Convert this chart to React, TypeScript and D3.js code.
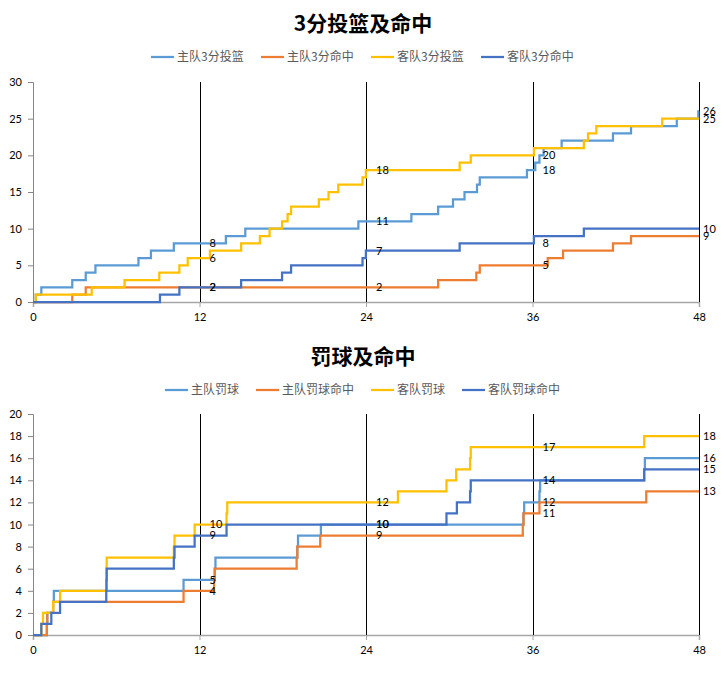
import React, { useEffect, useRef } from 'react';
import * as d3 from 'd3';

// event times (minute of game) at which each running total goes up by one
const homeAtt3 = [0.2, 0.6, 2.83, 3.8, 4.5, 7.6, 8.5, 10.15, 13.9, 15.3, 23.45, 27.27, 29.2, 30.27, 31.1, 32.0, 32.2, 35.6, 36.2, 36.5, 36.8, 38.1, 41.8, 43.1, 46.4, 47.95];
const homeMade3 = [2.83, 3.8, 29.2, 31.95, 32.2, 37.1, 38.2, 41.8, 43.1];
const awayAtt3 = [0.2, 4.23, 6.6, 9.1, 10.55, 11.15, 12.75, 15.0, 16.35, 17.05, 17.95, 18.35, 18.6, 20.6, 21.3, 22.0, 23.75, 23.99, 30.75, 31.55, 36.1, 39.7, 40.0, 40.6, 45.35];
const awayMade3 = [9.15, 10.55, 15.0, 17.95, 18.6, 23.75, 23.99, 30.75, 36.1, 39.7];

const homeFT = [1.0, 1.03, 1.45, 1.5, 10.85, 13.1, 13.15, 19.05, 19.1, 20.75, 35.35, 35.4, 36.5, 36.55, 44.05, 44.1];
const homeFTM = [1.0, 1.03, 1.45, 10.85, 13.05, 13.1, 19.0, 19.05, 20.7, 35.3, 35.35, 36.5, 44.2];
const awayFT = [0.6, 0.72, 1.45, 1.95, 5.28, 5.3, 5.31, 10.15, 10.2, 11.65, 13.95, 14.0, 26.3, 29.8, 30.5, 31.5, 31.55, 44.05];
const awayFTM = [0.6, 1.32, 1.95, 5.28, 5.3, 5.31, 10.15, 10.2, 11.65, 13.95, 29.8, 30.55, 31.5, 31.55, 44.05];

const quarterMarks = [12, 24, 36, 48];
const xTicks = [0, 12, 24, 36, 48];
const yTicksTop = [0, 5, 10, 15, 20, 25, 30];
const yTicksBottom = [0, 2, 4, 6, 8, 10, 12, 14, 16, 18, 20];

const namesTop = ['主队3分投篮', '主队3分命中', '客队3分投篮', '客队3分命中'];
const namesBottom = ['主队罚球', '主队罚球命中', '客队罚球', '客队罚球命中'];
const colors = ['#5B9BD5', '#ED7D31', '#FFC000', '#4472C4'];

const cjk = "'Noto Sans CJK SC', sans-serif";
const num = "Lato, 'Noto Sans CJK SC', sans-serif";

interface PanelSpec {
  title: string;
  titleY: number;
  legendY: number;
  legendX: number[];
  names: string[];
  series: number[][];
  yMax: number;
  yTicks: number[];
  top: number;
  bottom: number;
}

const panels: PanelSpec[] = [
  {
    title: '3分投篮及命中', titleY: 31, legendY: 57, legendX: [151, 261, 371, 481],
    names: namesTop, series: [homeAtt3, homeMade3, awayAtt3, awayMade3],
    yMax: 30, yTicks: yTicksTop, top: 82, bottom: 302,
  },
  {
    title: '罚球及命中', titleY: 364, legendY: 390, legendX: [165, 256, 371, 462],
    names: namesBottom, series: [homeFT, homeFTM, awayFT, awayFTM],
    yMax: 20, yTicks: yTicksBottom, top: 414, bottom: 635,
  },
];

const App: React.FC = () => {
  const ref = useRef<SVGSVGElement>(null);

  useEffect(() => {
    if (!ref.current) return;
    const svg = d3.select(ref.current);
    svg.selectAll('*').remove();

    const x = d3.scaleLinear().domain([0, 48]).range([33, 699]);

    panels.forEach(p => {
      const g = svg.append('g');
      const y = d3.scaleLinear().domain([0, p.yMax]).range([p.bottom, p.top]);

      // title
      g.append('text')
        .attr('x', 363).attr('y', p.titleY)
        .attr('text-anchor', 'middle')
        .style('font-family', cjk).style('font-size', '21px').style('font-weight', 'bold')
        .attr('fill', '#000')
        .text(p.title);

      // legend
      p.names.forEach((name, i) => {
        const lx = p.legendX[i];
        g.append('line')
          .attr('x1', lx).attr('x2', lx + 23)
          .attr('y1', p.legendY).attr('y2', p.legendY)
          .attr('stroke', colors[i]).attr('stroke-width', 2.25);
        g.append('text')
          .attr('x', lx + 26).attr('y', p.legendY)
          .attr('dy', '0.35em')
          .style('font-family', cjk).style('font-size', '12px')
          .attr('fill', '#595959')
          .text(name);
      });

      // y axis
      const yAxis = g.append('g')
        .attr('transform', `translate(${x(0)},0)`)
        .call(d3.axisLeft(y).tickValues(p.yTicks).tickSize(5).tickPadding(6));
      yAxis.select('.domain').attr('stroke', '#868686');
      yAxis.selectAll('.tick line').attr('stroke', '#868686');
      yAxis.selectAll('.tick text')
        .attr('fill', '#000').style('font-family', num).style('font-size', '11px');

      // x axis
      const xAxis = g.append('g')
        .attr('transform', `translate(0,${p.bottom})`)
        .call(d3.axisBottom(x).tickValues(xTicks).tickSize(5).tickPadding(6));
      xAxis.select('.domain').attr('stroke', '#A6A6A6').attr('stroke-width', 1.5);
      xAxis.selectAll('.tick line').attr('stroke', '#A6A6A6');
      xAxis.selectAll('.tick text')
        .attr('fill', '#000').style('font-family', num).style('font-size', '11px');

      // quarter separators
      g.selectAll('line.quarter')
        .data(quarterMarks)
        .enter()
        .append('line')
        .attr('class', 'quarter')
        .attr('x1', d => Math.round(x(d)) + 0.5).attr('x2', d => Math.round(x(d)) + 0.5)
        .attr('y1', y(p.yMax)).attr('y2', y(0))
        .attr('stroke', '#000').attr('stroke-width', 1)
        .attr('shape-rendering', 'crispEdges');

      // step lines
      const line = d3.line<[number, number]>()
        .x(d => x(d[0]))
        .y(d => y(d[1]))
        .curve(d3.curveStepAfter);

      p.series.forEach((events, i) => {
        const pts: [number, number][] = [[0, 0], ...events.map((t, k) => [t, k + 1] as [number, number]), [48, events.length]];
        g.append('path')
          .datum(pts)
          .attr('d', line)
          .attr('fill', 'none')
          .attr('stroke', colors[i])
          .attr('stroke-width', 2.25);
      });

      // data labels at quarter ends
      p.series.forEach(events => {
        quarterMarks.forEach(m => {
          const v = events.filter(t => t <= m).length;
          g.append('text')
            .attr('x', x(m) + (m === 48 ? 4 : 10))
            .attr('y', y(v))
            .attr('dy', '0.35em')
            .style('font-family', num).style('font-size', '11px')
            .attr('fill', '#000')
            .text(v);
        });
      });
    });
  }, []);

  return (
    <div style={{ position: 'absolute', left: 0, top: 0, background: '#fff' }}>
      <svg ref={ref} width={726} height={673} />
    </div>
  );
};

export default App;
